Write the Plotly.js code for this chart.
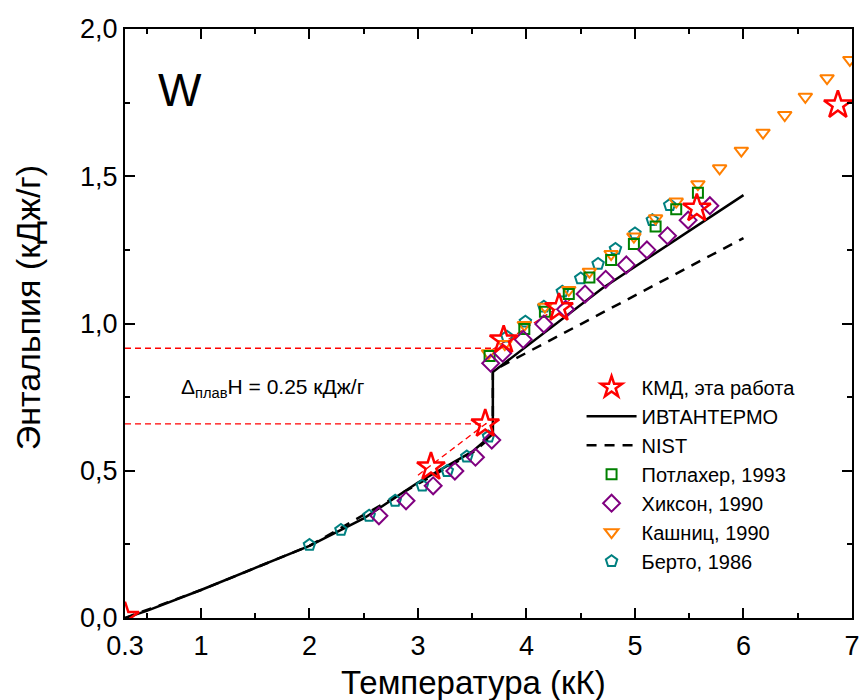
<!DOCTYPE html>
<html>
<head>
<meta charset="utf-8">
<script src="https://cdn.plot.ly/plotly-3.0.1.min.js"></script>
<style>html,body{margin:0;padding:0;background:#fff}#chart{width:859px;height:700px}</style>
</head>
<body>
<div id="chart"></div>
<script>
// КМД, эта работа
const kmdT = [0.3, 3.12, 3.62, 3.79, 4.30, 5.57, 6.87];
const kmdH = [0.005, 0.513, 0.659, 0.944, 1.053, 1.391, 1.742];
// ИВТАНТЕРМО
const ivtanT = [0.3, 0.5, 1.0, 1.5, 2.0, 2.5, 3.0, 3.5, 3.69, 3.69, 4.2, 4.7, 6.0];
const ivtanH = [0.0, 0.024, 0.095, 0.169, 0.245, 0.338, 0.46, 0.565, 0.625, 0.835, 0.98, 1.12, 1.436];
// NIST
const nistT = [0.3, 1.0, 2.0, 3.0, 3.5, 3.69, 3.69, 6.0];
const nistH = [0.0, 0.095, 0.245, 0.455, 0.56, 0.62, 0.84, 1.29];
// Потлахер, 1993
const potT = [3.66, 3.98, 4.17, 4.39, 4.58, 4.78, 4.99, 5.19, 5.38, 5.58];
const potH = [0.890, 0.981, 1.040, 1.100, 1.156, 1.216, 1.270, 1.329, 1.388, 1.444];
// Хиксон, 1990
const hixT = [2.64, 2.89, 3.14, 3.34, 3.53, 3.68, 3.67, 3.78, 3.97, 4.16, 4.36, 4.54, 4.73, 4.92, 5.11, 5.30, 5.49, 5.69];
const hixH = [0.347, 0.398, 0.449, 0.499, 0.546, 0.604, 0.865, 0.899, 0.946, 0.998, 1.048, 1.100, 1.150, 1.199, 1.250, 1.298, 1.351, 1.400];
// Кашниц, 1990
const kasT = [3.65, 3.80, 3.98, 4.17, 4.39, 4.58, 4.78, 4.99, 5.19, 5.38, 5.58, 5.78, 5.98, 6.18, 6.38, 6.57, 6.77, 6.98];
const kasH = [0.899, 0.93, 0.995, 1.057, 1.114, 1.176, 1.236, 1.295, 1.357, 1.414, 1.473, 1.527, 1.587, 1.648, 1.708, 1.770, 1.833, 1.895];
// Берто, 1986
const berT = [2.00, 2.29, 2.55, 2.79, 3.04, 3.27, 3.45, 3.65, 3.82, 3.99, 4.16, 4.33, 4.50, 4.66, 4.82, 5.00, 5.16, 5.32];
const berH = [0.248, 0.299, 0.347, 0.398, 0.449, 0.499, 0.548, 0.616, 0.955, 1.006, 1.057, 1.108, 1.153, 1.202, 1.253, 1.306, 1.351, 1.402];
// red guide lines (fits and melting enthalpy levels)
const fitSolidT = [3.0, 3.68];
const fitSolidH = [0.485, 0.675];
const fitLiqT = [3.68, 4.4];
const fitLiqH = [0.91, 1.08];
const levelLowT = [0.3, 3.63];
const levelLowH = [0.659, 0.659];
const levelHighT = [0.3, 3.68];
const levelHighH = [0.916, 0.916];
// ticks
const xTickVals = [0.3, 1, 2, 3, 4, 5, 6, 7];
const xTickText = ['0.3', '1', '2', '3', '4', '5', '6', '7'];
const yTickVals = [0, 0.5, 1.0, 1.5, 2.0];
const yTickText = ['0,0', '0,5', '1,0', '1,5', '2,0'];

const FONT = 'Liberation Sans, Arial, sans-serif';
const redGuide = {color: '#ff0000', width: 1.3, dash: '6px,4px'};

const traces = [
  {x: levelLowT, y: levelLowH, mode: 'lines', line: redGuide, showlegend: false, hoverinfo: 'skip'},
  {x: levelHighT, y: levelHighH, mode: 'lines', line: redGuide, showlegend: false, hoverinfo: 'skip'},
  {x: fitSolidT, y: fitSolidH, mode: 'lines', line: redGuide, showlegend: false, hoverinfo: 'skip'},
  {x: fitLiqT, y: fitLiqH, mode: 'lines', line: redGuide, showlegend: false, hoverinfo: 'skip'},
  {x: nistT, y: nistH, mode: 'lines', name: 'NIST', legendrank: 3,
   line: {color: '#000', width: 2.5, dash: '10px,8px'}},
  {x: ivtanT, y: ivtanH, mode: 'lines', name: 'ИВТАНТЕРМО', legendrank: 2,
   line: {color: '#000', width: 2.5}},
  {x: berT, y: berH, mode: 'markers', name: 'Берто, 1986', legendrank: 7,
   marker: {symbol: 'pentagon-open', size: 12, color: '#008080', line: {width: 2, color: '#008080'}}},
  {x: kasT, y: kasH, mode: 'markers', name: 'Кашниц, 1990', legendrank: 6,
   marker: {symbol: 'triangle-down-open', size: 12, color: '#ff7f00', line: {width: 2, color: '#ff7f00'}}},
  {x: potT, y: potH, mode: 'markers', name: 'Потлахер, 1993', legendrank: 4,
   marker: {symbol: 'square-open', size: 10, color: '#008000', line: {width: 2, color: '#008000'}}},
  {x: hixT, y: hixH, mode: 'markers', name: 'Хиксон, 1990', legendrank: 5,
   marker: {symbol: 'diamond-open', size: 13, color: '#800080', line: {width: 2, color: '#800080'}}},
  {x: kmdT, y: kmdH, mode: 'markers', name: 'КМД, эта работа', legendrank: 1,
   marker: {symbol: 'star-open', size: 21, color: '#ff0000', line: {width: 2.5, color: '#ff0000'}}}
];

const axisCommon = {
  showline: true, linecolor: '#000', linewidth: 2, mirror: 'ticks',
  ticks: 'inside', ticklen: 10, tickwidth: 2, tickcolor: '#000',
  showgrid: false, zeroline: false, ticklabeloverflow: 'allow',
  tickfont: {family: FONT, size: 27, color: '#000'}
};

const layout = {
  width: 859, height: 700,
  margin: {l: 125, r: 7, t: 29, b: 82},
  paper_bgcolor: '#fff', plot_bgcolor: '#fff',
  font: {family: FONT, color: '#000'},
  showlegend: true,
  legend: {x: 0.628, y: 0.425, xanchor: 'left', yanchor: 'top',
    font: {family: FONT, size: 20, color: '#000'},
    bgcolor: 'rgba(0,0,0,0)', itemwidth: 50, tracegroupgap: 0},
  xaxis: Object.assign({}, axisCommon, {
    range: [0.3, 7], tickmode: 'array', tickvals: xTickVals, ticktext: xTickText,
    ticklabelstandoff: 3,
    minor: {tickvals: [0.5, 1.5, 2.5, 3.5, 4.5, 5.5, 6.5], ticks: 'inside', ticklen: 5, tickwidth: 2, tickcolor: '#000', showgrid: false}
  }),
  yaxis: Object.assign({}, axisCommon, {
    range: [0, 2], tickmode: 'array', tickvals: yTickVals, ticktext: yTickText,
    minor: {tickvals: [0.25, 0.75, 1.25, 1.75], ticks: 'inside', ticklen: 5, tickwidth: 2, tickcolor: '#000', showgrid: false}
  }),
  annotations: [
    {xref: 'paper', yref: 'paper', x: 0.480, y: -0.110, xanchor: 'center', yanchor: 'middle',
     text: 'Температура (кК)', showarrow: false, font: {family: FONT, size: 33, color: '#000'}},
    {xref: 'paper', yref: 'paper', x: -0.1334, y: 0.526, xanchor: 'center', yanchor: 'middle', textangle: -90,
     text: 'Энтальпия (кДж/г)', showarrow: false, font: {family: FONT, size: 34, color: '#000'}},
    {xref: 'paper', yref: 'paper', x: 0.076, y: 0.896, xanchor: 'center', yanchor: 'middle',
     text: 'W', showarrow: false, font: {family: FONT, size: 46, color: '#000'}},
    {xref: 'paper', yref: 'paper', x: 0.074, y: 0.39, xanchor: 'left', yanchor: 'middle',
     text: 'Δ<sub>плав</sub>H = 0.25 кДж/г', showarrow: false, font: {family: FONT, size: 21, color: '#000'}}
  ]
};

Plotly.newPlot('chart', traces, layout, {displayModeBar: false, staticPlot: true});
</script>
</body>
</html>
